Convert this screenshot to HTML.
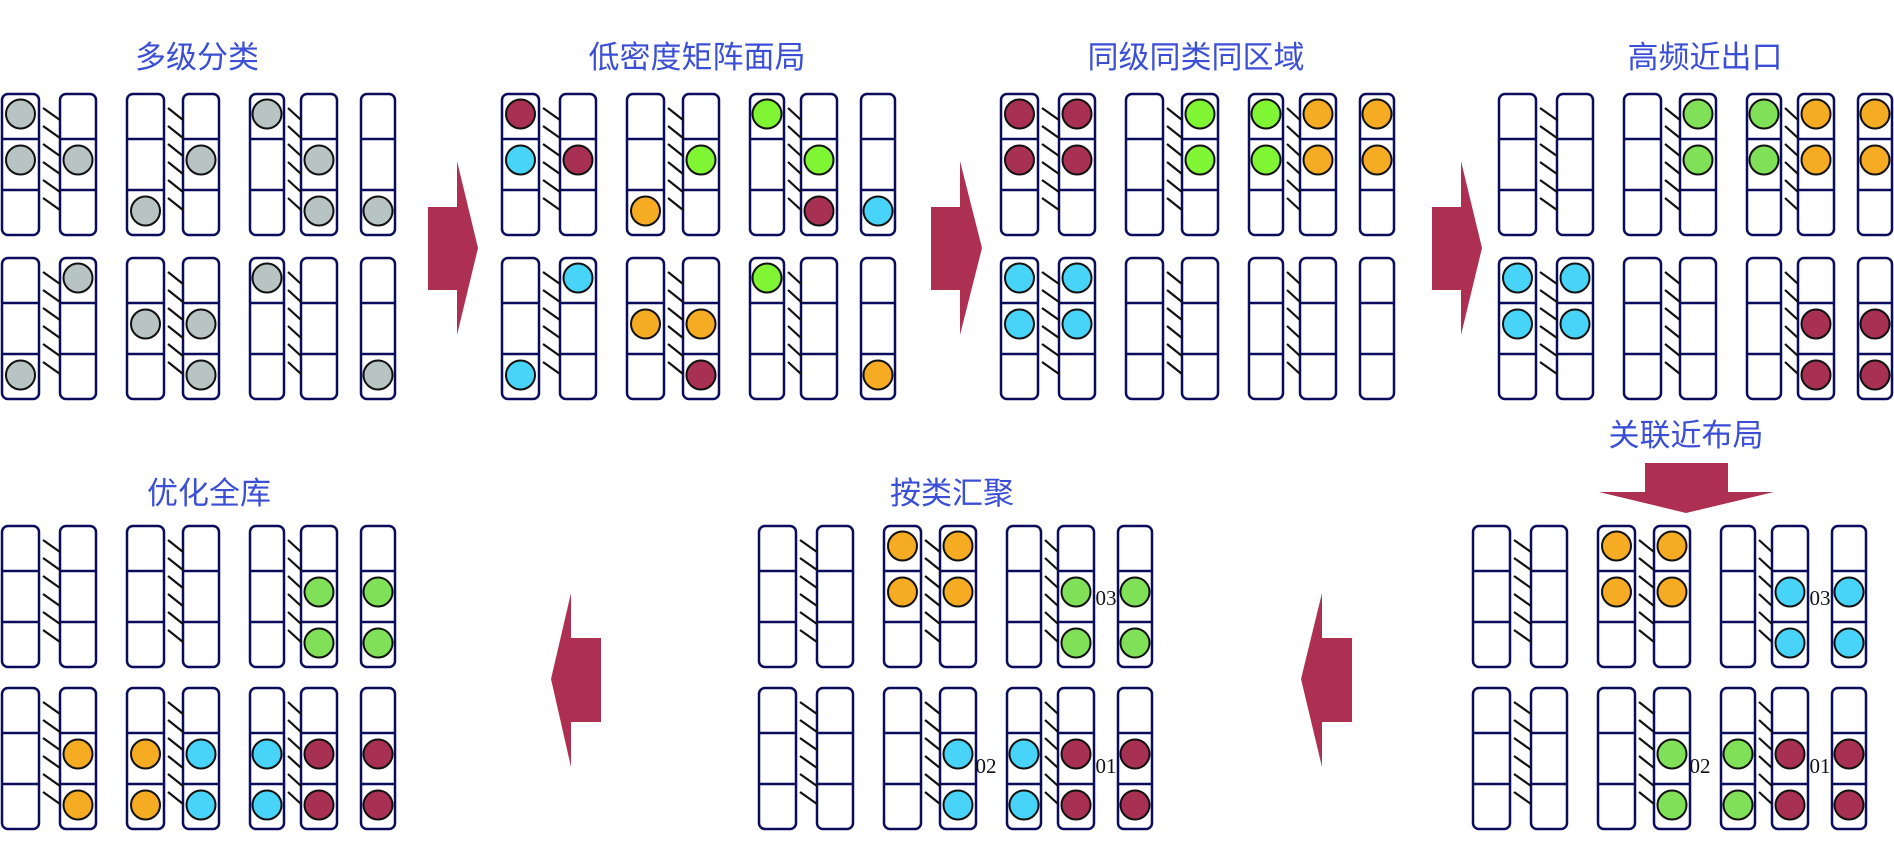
<!DOCTYPE html>
<html><head><meta charset="utf-8"><style>
html,body{margin:0;padding:0;background:#fff;}
svg{display:block;}
.t{font-family:"Liberation Sans","Noto Sans CJK SC",sans-serif;font-size:31px;fill:#3b4fd6;}
.n{font-family:"Liberation Serif",serif;font-size:21px;fill:#111;}
</style></head><body>
<svg id="s" width="1894" height="865" viewBox="0 0 1894 865" xmlns="http://www.w3.org/2000/svg">
<text class="t" x="197" y="68" text-anchor="middle">多级分类</text>
<text class="t" x="697" y="68" text-anchor="middle">低密度矩阵面局</text>
<text class="t" x="1196" y="68" text-anchor="middle">同级同类同区域</text>
<text class="t" x="1705" y="68" text-anchor="middle">高频近出口</text>
<text class="t" x="1686" y="446" text-anchor="middle">关联近布局</text>
<text class="t" x="209" y="504" text-anchor="middle">优化全库</text>
<text class="t" x="952" y="504" text-anchor="middle">按类汇聚</text>
<g fill="#ad3053">
<polygon points="428,207 457,207 457,161 478,248 457,335 457,290 428,290"/>
<polygon points="931,207 960,207 960,161 982,248 960,335 960,290 931,290"/>
<polygon points="1432,207 1461,207 1461,161 1482,248 1461,335 1461,290 1432,290"/>
<polygon points="1645,463 1728,463 1728,492 1774,492 1686,513 1599,492 1645,492"/>
<polygon points="601,638 571,638 571,593 551,679 571,767 571,722 601,722"/>
<polygon points="1352,638 1322,638 1322,593 1301,679 1322,767 1322,722 1352,722"/>
</g>
<g id="g"></g>
<g class="n">
<text x="1820" y="605" text-anchor="middle">03</text>
<text x="1700" y="773" text-anchor="middle">02</text>
<text x="1820" y="773" text-anchor="middle">01</text>
<text x="1106" y="605" text-anchor="middle">03</text>
<text x="986" y="773" text-anchor="middle">02</text>
<text x="1106" y="773" text-anchor="middle">01</text>
</g>
</svg>
<script>
var NS="http://www.w3.org/2000/svg",g=document.getElementById("g");
function el(t,a){var e=document.createElementNS(NS,t);for(var k in a)e.setAttribute(k,a[k]);g.appendChild(e);}
var CX=[[0,37],[58,94],[125,162],[181,217],[248,282],[299,335],[359,393]];
var C={g:"#b8c4c4",r:"#a83052",c:"#48d4f8",l:"#80f534",G:"#80e058",o:"#f5ab22"};
var CY=[20,66,117];
function row(ox,oy,circ){
  for(var i=0;i<7;i++){var x=ox+CX[i][0],w=CX[i][1]-CX[i][0];
    el("rect",{x:x,y:oy,width:w,height:141,rx:6,fill:"#fff",stroke:"#0c0c5c","stroke-width":2.5});
    el("line",{x1:x,y1:oy+45,x2:x+w,y2:oy+45,stroke:"#0c0c5c","stroke-width":2.5});
    el("line",{x1:x,y1:oy+96,x2:x+w,y2:oy+96,stroke:"#0c0c5c","stroke-width":2.5});
  }
  [[0,1],[2,3],[4,5]].forEach(function(p){var x1=ox+CX[p[0]][1]+4,x2=ox+CX[p[1]][0];
    for(var k=0;k<6;k++){var y=oy+14+18*k;el("line",{x1:x1,y1:y,x2:x2,y2:y+12,stroke:"#111","stroke-width":2.2});}});
  circ.forEach(function(c){var i=c[0],x=ox+(CX[i][0]+CX[i][1])/2;
    el("circle",{cx:x,cy:oy+CY[c[1]],r:14.5,fill:C[c[2]],stroke:"#111","stroke-width":2});});
}
function P(ox,oy,top,bot){row(ox,oy,top);row(ox,oy+164,bot);}
function two(list,cells,col){var r=[];list.forEach(function(i){cells.forEach(function(c){r.push([i,c,col]);});});return r;}
P(2,94,[[0,0,"g"],[0,1,"g"],[1,1,"g"],[2,2,"g"],[3,1,"g"],[4,0,"g"],[5,1,"g"],[5,2,"g"],[6,2,"g"]],
  [[0,2,"g"],[1,0,"g"],[2,1,"g"],[3,1,"g"],[3,2,"g"],[4,0,"g"],[6,2,"g"]]);
P(502,94,[[0,0,"r"],[0,1,"c"],[1,1,"r"],[2,2,"o"],[3,1,"l"],[4,0,"l"],[5,1,"l"],[5,2,"r"],[6,2,"c"]],
  [[0,2,"c"],[1,0,"c"],[2,1,"o"],[3,1,"o"],[3,2,"r"],[4,0,"l"],[6,2,"o"]]);
P(1001,94,two([0,1],[0,1],"r").concat(two([3,4],[0,1],"l"),two([5,6],[0,1],"o")),two([0,1],[0,1],"c"));
P(1499,94,two([3,4],[0,1],"G").concat(two([5,6],[0,1],"o")),two([0,1],[0,1],"c").concat(two([5,6],[1,2],"r")));
row(1473,526,two([2,3],[0,1],"o").concat(two([5,6],[1,2],"c")));
row(1473,688,two([3,4],[1,2],"G").concat(two([5,6],[1,2],"r")));
row(759,526,two([2,3],[0,1],"o").concat(two([5,6],[1,2],"G")));
row(759,688,two([3,4],[1,2],"c").concat(two([5,6],[1,2],"r")));
row(2,526,two([5,6],[1,2],"G"));
row(2,688,two([1,2],[1,2],"o").concat(two([3,4],[1,2],"c"),two([5,6],[1,2],"r")));
</script>
</body></html>
